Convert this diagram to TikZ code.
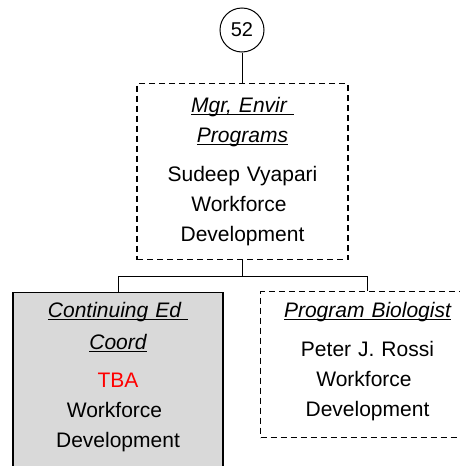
\documentclass[tikz,border=0pt]{standalone}
\usepackage{fontspec}
\setmainfont{Liberation Sans}
\usepackage{xcolor}
\usepackage{tikz}
\usetikzlibrary{positioning, calc}
\definecolor{BoxGray}{HTML}{D9D9D9}
\definecolor{TbaRed}{HTML}{FF0000}
\newsavebox{\titlebox}
\newcommand{\titleline}[1]{\leavevmode\sbox{\titlebox}{\itshape #1}\rlap{\rule[-2.4pt]{\wd\titlebox}{1.3pt}}\usebox{\titlebox}}

\begin{document}
\begin{tikzpicture}[x=1pt, y=-1pt, line width=1pt,
  every node/.style={font=\fontsize{21}{30}\selectfont},
  orgbox/.style={draw, line width=1.3pt, inner sep=0pt, align=center, anchor=north},
  vacant/.style={orgbox, fill=BoxGray},
  dashbox/.style={orgbox, dash pattern=on 6pt off 4pt}]
  \useasboundingbox (0,0) rectangle (460,466);
  \clip (0,0) rectangle (460,466);
  % position box and reporting line
  \node[circle, draw, minimum size=44pt, inner sep=0pt, font=\fontsize{20}{24}\selectfont] (n52) at (242,30) {52};
  \node[dashbox, text width=211pt, text height=29pt, text depth=147pt] (mgr) at (242.5,83)
    {\titleline{Mgr, Envir\ }\\\titleline{Programs}\\[9pt]Sudeep Vyapari\\Workforce\ \mbox{}\\Development};
  \node[vacant, text width=210pt, text height=25pt, text depth=175pt] (ced) at (118,292)
    {\titleline{Continuing Ed\ }\\[2pt]\titleline{Coord}\\[8pt]\textcolor{TbaRed}{TBA}\\Workforce\ \mbox{}\\Development};
  \node[dashbox, text width=214pt, text height=26pt, text depth=120pt] (bio) at (367.5,291)
    {\titleline{Program Biologist}\\[9pt]Peter J. Rossi\\Workforce\ \mbox{}\\Development};
  % connectors
  \draw (n52.south) -- (n52.south |- mgr.north);
  \draw (mgr.south) -- ++(0,16) coordinate (fork);
  \draw (fork) -| (ced.north);
  \draw (fork) -| (bio.north);
\end{tikzpicture}
\end{document}
